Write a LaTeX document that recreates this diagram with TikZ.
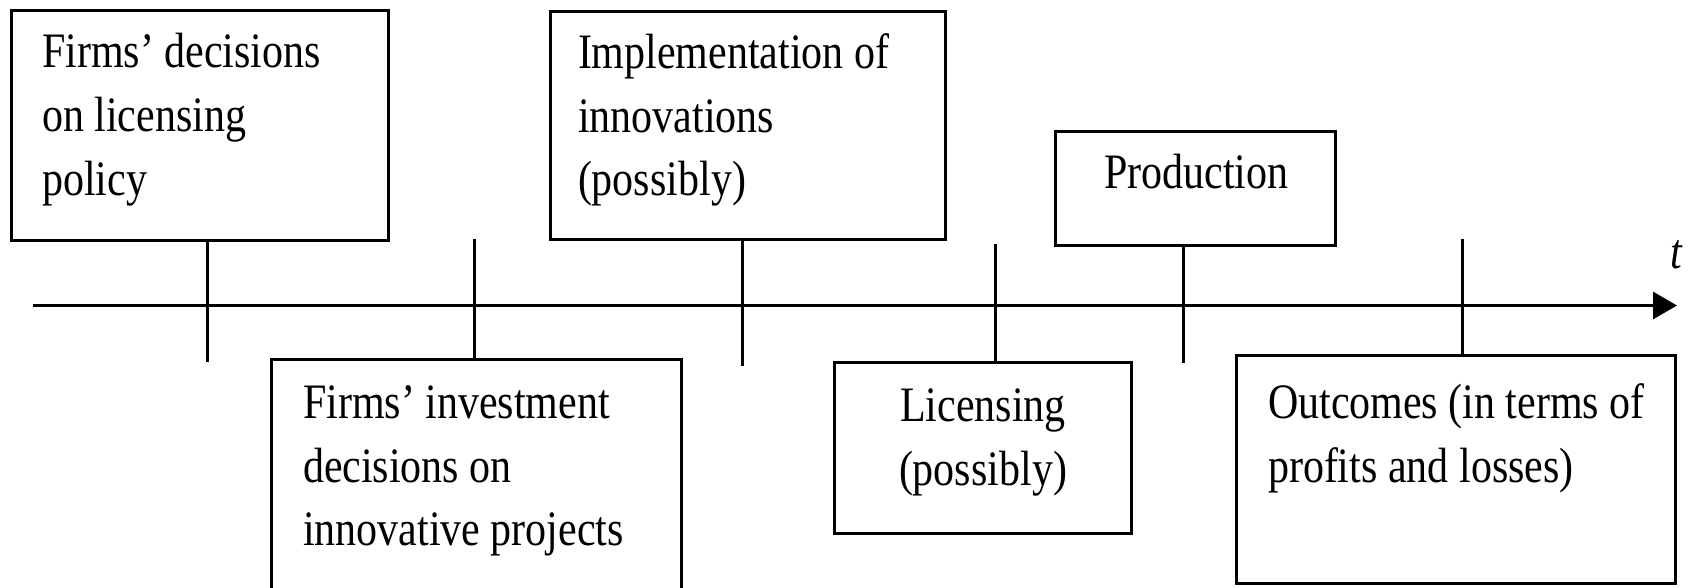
\documentclass[tikz,border=0pt]{standalone}
\usepackage{fontspec}
\setmainfont{Liberation Serif}
\usepackage{graphicx}
\usetikzlibrary{arrows.meta}
\newcommand{\boxtext}[2]{\scalebox{1}[1.18]{\fontsize{42}{54}\selectfont\begin{tabular}[t]{@{}#1@{}}#2\end{tabular}}}
\begin{document}
\begin{tikzpicture}[x=1pt,y=-1pt,
  stagebox/.style={draw=black,line width=3pt,rectangle,inner sep=0pt,outer sep=0pt,anchor=north west},
  boxlabel/.style={inner sep=0pt,outer sep=0pt,anchor=base west},
  tickline/.style={draw=black,line width=3pt},
  axisline/.style={draw=black,line width=3pt,-{Triangle[length=24pt,width=27pt]}}]
\useasboundingbox (0,0) rectangle (1689,588);
\clip (0,0) rectangle (1689,588);
% boxes
\node[stagebox,minimum width=376.5pt,minimum height=229pt] (b1) at (11.5,11) {};
\node[stagebox,minimum width=410.5pt,minimum height=260pt] (b2) at (271,359) {};
\node[stagebox,minimum width=395.5pt,minimum height=228pt] (b3) at (550,11.5) {};
\node[stagebox,minimum width=280pt,minimum height=113.5pt] (b4) at (1055.6,131.7) {};
\node[stagebox,minimum width=297pt,minimum height=171pt] (b5) at (834.4,362.3) {};
\node[stagebox,minimum width=438.5pt,minimum height=228pt] (b6) at (1236.7,355) {};
% texts
\node[boxlabel] (l1) at (42,68) {\boxtext{l}{Firms’ decisions\\on licensing\\policy}};
\node[boxlabel] (l2) at (303,418.5) {\boxtext{l}{Firms’ investment\\decisions on\\innovative projects}};
\node[boxlabel] (l3) at (578,68.3) {\boxtext{l}{Implementation of\\innovations\\(possibly)}};
\node[boxlabel] (l4) at (1104,189) {\boxtext{l}{Production}};
\node[inner sep=0pt,outer sep=0pt,anchor=base] (l5) at (983,421.7) {\boxtext{c}{Licensing\\(possibly)}};
\node[boxlabel] (l6) at (1268,418.3) {\boxtext{l}{Outcomes (in terms of\\profits and losses)}};
% axis
\coordinate (axstart) at (33,305.5);
\coordinate (axend) at (1677,305.5);
\draw[axisline] (axstart) -- (axend);
\node[inner sep=0pt,outer sep=0pt,anchor=base west] (tlab) at (1670,268) {\scalebox{1}[1.18]{\fontsize{42}{54}\selectfont\itshape t}};
% ticks
\coordinate (e1) at (207,362);
\coordinate (e2) at (474,238.5);
\coordinate (e3) at (742,366);
\coordinate (e4) at (995.6,244);
\coordinate (e5) at (1183,363);
\coordinate (e6) at (1462,238.5);
\draw[tickline] (b1.south -| e1) -- (e1);
\draw[tickline] (e2) -- (e2 |- b2.north);
\draw[tickline] (b3.south -| e3) -- (e3);
\draw[tickline] (e4) -- (e4 |- b5.north);
\draw[tickline] (b4.south -| e5) -- (e5);
\draw[tickline] (e6) -- (e6 |- b6.north);
\end{tikzpicture}
\end{document}
